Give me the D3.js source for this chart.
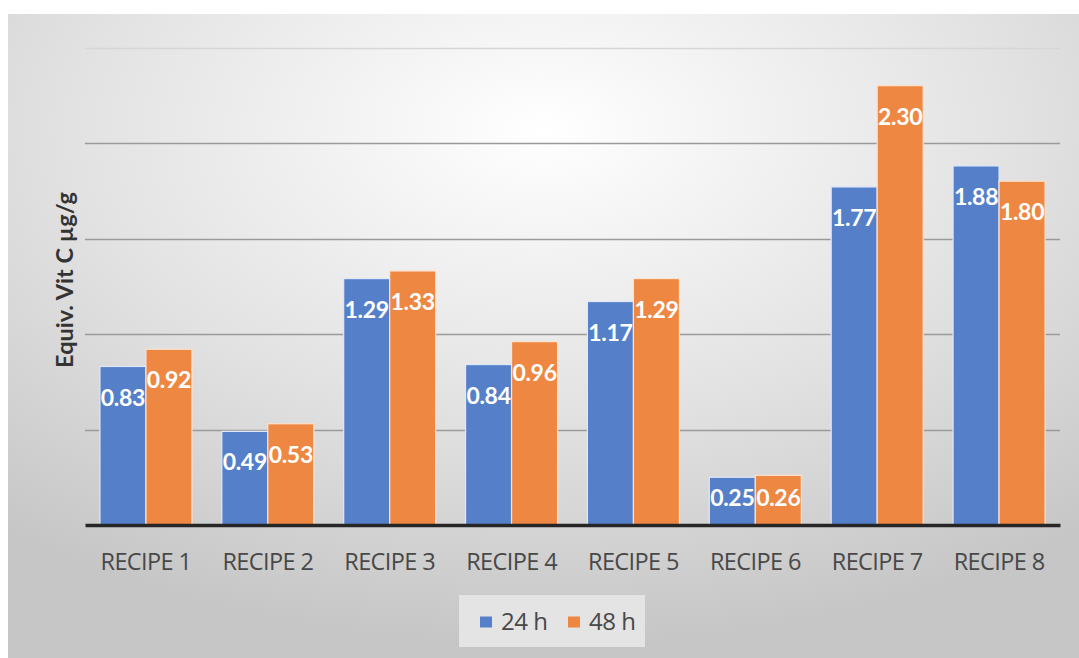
<!DOCTYPE html>
<html><head><meta charset="utf-8">
<script src="https://cdn.jsdelivr.net/npm/d3@7"></script>
<style>html,body{margin:0;padding:0;background:#fff;}svg{display:block;}</style>
</head><body>
<svg id="chart" width="1079" height="658"></svg>
<script>
const categories = ["RECIPE 1","RECIPE 2","RECIPE 3","RECIPE 4","RECIPE 5","RECIPE 6","RECIPE 7","RECIPE 8"];
const seriesNames = ["24 h","48 h"];
const values24 = [0.83,0.49,1.29,0.84,1.17,0.25,1.77,1.88];
const values48 = [0.92,0.53,1.33,0.96,1.29,0.26,2.30,1.80];
const yTicks = [0,0.5,1.0,1.5,2.0,2.5];
const colors = ["#5580c9","#ee8742"];

const svg = d3.select("#chart");
const defs = svg.append("defs");
const rg = defs.append("radialGradient").attr("id","bg")
  .attr("cx","0.5").attr("cy","0.18").attr("r","0.8").attr("fx","0.5").attr("fy","0.18");
rg.append("stop").attr("offset","0").attr("stop-color","#ffffff");
rg.append("stop").attr("offset","0.55").attr("stop-color","#e2e2e2");
rg.append("stop").attr("offset","1").attr("stop-color","#c6c6c6");

svg.append("rect").attr("x",8).attr("y",14).attr("width",1071).attr("height",644).attr("fill","url(#bg)");

const pLeft=85, pRight=1060, pBase=525, pTop=47.5;
const x = d3.scaleBand().domain(categories).range([pLeft,pRight]).paddingInner(0.245).paddingOuter(0.1225);
const xs = d3.scaleBand().domain(seriesNames).range([0,x.bandwidth()]);
const y = d3.scaleLinear().domain([0,2.5]).range([pBase,pTop]);

// gridlines
svg.append("g").selectAll("line").data(yTicks.filter(t=>t>0)).join("line")
  .attr("x1",pLeft).attr("x2",pRight)
  .attr("y1",d=>Math.round(y(d))+0.5).attr("y2",d=>Math.round(y(d))+0.5)
  .attr("stroke",d=>d===2.5?"#d6d6d6":"#9a9a9a").attr("stroke-width",1.5);

const data = categories.map((c,i)=>({cat:c, vals:[values24[i],values48[i]]}));
const groups = svg.append("g").selectAll("g").data(data).join("g")
  .attr("transform",d=>`translate(${x(d.cat)},0)`);
groups.selectAll("rect").data(d=>d.vals.map((v,j)=>({v,s:seriesNames[j],j}))).join("rect")
  .attr("x",d=>xs(d.s)).attr("width",xs.bandwidth())
  .attr("y",d=>y(d.v)).attr("height",d=>pBase-y(d.v))
  .attr("fill",d=>colors[d.j])
  .attr("stroke",d=>d.j===0?"#dfe8fa":"#fde2cc").attr("stroke-width",1.2);
groups.selectAll("text").data(d=>d.vals.map((v,j)=>({v,s:seriesNames[j],j}))).join("text")
  .attr("x",d=>xs(d.s)+xs.bandwidth()/2)
  .attr("y",d=>Math.min(y(d.v)+31, pBase-27))
  .attr("dy","0.35em").attr("text-anchor","middle")
  .attr("fill","#ffffff").attr("font-family","Lato, 'Open Sans', sans-serif")
  .attr("font-weight","bold").attr("font-size","23px").attr("letter-spacing","-0.3px")
  .text(d=>d.v.toFixed(2));

// baseline axis
const xAxis = svg.append("g").attr("transform",`translate(0,${pBase})`)
  .call(d3.axisBottom(x).tickSize(0));
xAxis.select(".domain").attr("stroke","#262626").attr("stroke-width",3.5);
xAxis.selectAll(".tick text").attr("y",45).attr("dy",0)
  .attr("font-family","'Open Sans', Lato, sans-serif")
  .attr("font-size","23.5px").attr("fill","#484848").attr("letter-spacing","-0.6px");

// y title
svg.append("text").attr("transform","translate(65,280) rotate(-90)")
  .attr("text-anchor","middle").attr("dy","0.35em").attr("font-family","Lato, 'Open Sans', sans-serif")
  .attr("font-weight","bold").attr("font-size","23.5px").attr("fill","#333")
  .text("Equiv. Vit C µg/g");

// legend
const lg = svg.append("g");
lg.append("rect").attr("x",459).attr("y",595).attr("width",186).attr("height",52).attr("fill","#e4e4e4");
const items = lg.selectAll("g").data(seriesNames).join("g")
  .attr("transform",(d,i)=>`translate(${480+i*88},622)`);
items.append("rect").attr("x",0).attr("y",-5.5).attr("width",12).attr("height",11).attr("fill",(d,i)=>colors[i]);
items.append("text").attr("x",21).attr("dy","0.35em").attr("font-family","'Open Sans', Lato, sans-serif")
  .attr("font-size","24px").attr("fill","#484848").attr("letter-spacing","-0.5px").text(d=>d);
</script>
</body></html>
